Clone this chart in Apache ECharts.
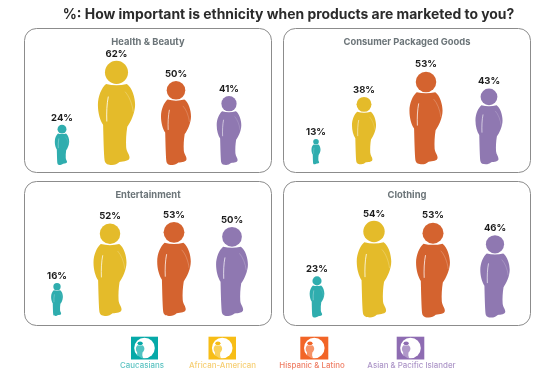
<!DOCTYPE html>
<html>
<head>
<meta charset="utf-8">
<style>html,body{margin:0;padding:0;background:#fff}#c{width:555px;height:380px}</style>
<script src="https://cdn.jsdelivr.net/npm/echarts@6/dist/echarts.min.js"></script>
</head>
<body>
<div id="c"></div>
<script>
// ---- data ----
const chartTitle = '%: How important is ethnicity when products are marketed to you?';
const ethnicities = ['Caucasians', 'African-American', 'Hispanic & Latino', 'Asian & Pacific Islander'];
const panelNames = ['Health & Beauty', 'Consumer Packaged Goods', 'Entertainment', 'Clothing'];
const healthBeauty = [24, 62, 50, 41];
const consumerPackagedGoods = [13, 38, 53, 43];
const entertainment = [16, 52, 53, 50];
const clothing = [23, 54, 53, 46];
const panelValues = [healthBeauty, consumerPackagedGoods, entertainment, clothing];

// ---- styles / layout ----
const figureColors = ['#2fadae', '#e4bb2a', '#d4632f', '#8f78b1'];
const iconColors = ['#06a9a8', '#f7bd16', '#f26527', '#8e6cb2'];
const legendTextColors = ['#5cc3c2', '#f6cf74', '#ef7f66', '#ad96c8'];
const FONT = 'Inter, "Noto Sans", sans-serif';
const panelBoxes = [
  {x: 24.5, y: 28.5, w: 247, h: 144},
  {x: 283.5, y: 28.5, w: 247, h: 144},
  {x: 24.5, y: 181.5, w: 247, h: 144},
  {x: 283.5, y: 181.5, w: 247, h: 144}
];
const panelGrids = [
  {left: 34, width: 224, baseline: 165, pxPerUnit: 1.68, yMin: 0},
  {left: 285, width: 232, baseline: 164.3, pxPerUnit: 1.685, yMin: -2},
  {left: 34, width: 224, baseline: 316, pxPerUnit: 1.65, yMin: -4},
  {left: 290, width: 232, baseline: 317.5, pxPerUnit: 1.79, yMin: 0}
];
const yMax = 70;
const figureNudges = [
  [0, -1.5, 2, -1],
  [2, -8, -4, 1],
  [-5, -8, 0, 2],
  [-2, -3, -2, 2]
];
const legendLayout = [
  {iconX: 131, iconW: 27, textX: 142},
  {iconX: 208.5, iconW: 27.5, textX: 222.5},
  {iconX: 300.3, iconW: 28, textX: 312},
  {iconX: 396.7, iconW: 27.6, textX: 411.5}
];

// person outline in a 100 x 280 box
const HEAD = 'M81,31 A31,31 0 1 1 19,31 A31,31 0 1 1 81,31 Z';
const BODY = 'M22,62 Q50,69 78,62 C92,72 100,98 100,118 C100,140 88,165 79,177 ' +
  'C76,195 75,215 76,232 C77,245 85,250 85,260 C85,270 70,270 58,272 C52,277 46,280 38,280 ' +
  'C28,280 20,278 18,268 C16,250 15,210 14,172 C6,160 0,140 0,118 C0,95 10,72 22,62 Z';
const SHINE_L = 'M28,96 C24,115 23,140 24,163';
const SHINE_R = 'M73,83 C84,95 92,115 95,137';

function personElements(color) {
  return [
    {type: 'path', shape: {pathData: HEAD}, style: {fill: color}},
    {type: 'path', shape: {pathData: BODY}, style: {fill: color}},
    {type: 'path', shape: {pathData: SHINE_L}, style: {fill: null, stroke: 'rgba(255,255,255,0.85)', lineWidth: 2.6}},
    {type: 'path', shape: {pathData: SHINE_R}, style: {fill: null, stroke: 'rgba(255,255,255,0.4)', lineWidth: 1.6}}
  ];
}

const renderPerson = (panel) => (params, api) => {
  const i = api.value(0), v = api.value(1);
  const top = api.coord([i, v]);
  const base = api.coord([i, panelGrids[panel].yMin]);
  const cx = top[0] + figureNudges[panel][i];
  const h = base[1] - top[1];
  const s = h / 280;
  return {
    type: 'group',
    children: [
      {type: 'group', x: cx - 50 * s, y: top[1], scaleX: s, scaleY: s, children: personElements(figureColors[i])},
      {type: 'text', x: cx, y: top[1] - 7, style: {
        text: v + '%', fill: '#1c1c1c', font: '700 9.5px ' + FONT, textAlign: 'center', textVerticalAlign: 'middle'
      }}
    ]
  };
};

const renderLegendItem = (params, api) => {
  const i = api.value(0);
  const l = legendLayout[i];
  const cx = l.iconX + l.iconW / 2, cy = 348;
  return {
    type: 'group',
    children: [
      {type: 'rect', shape: {x: l.iconX, y: 336.7, width: l.iconW, height: 22.8}, style: {fill: iconColors[i]}},
      {type: 'circle', shape: {cx: cx, cy: cy, r: 10.3}, style: {fill: '#fff'}},
      {type: 'group', x: cx - 8.6, y: cy - 6.6, scaleX: 0.085, scaleY: 0.062, children: [
        {type: 'path', shape: {pathData: HEAD}, style: {fill: iconColors[i]}},
        {type: 'path', shape: {pathData: BODY}, style: {fill: iconColors[i], opacity: 0.7}}
      ]},
      {type: 'text', x: l.textX, y: 366, style: {
        text: ethnicities[i], fill: legendTextColors[i], font: '500 7.9px ' + FONT, textAlign: 'center', textVerticalAlign: 'middle'
      }}
    ]
  };
};

const graphic = panelBoxes.map(b => ({
  type: 'rect', shape: {x: b.x, y: b.y, width: b.w, height: b.h, r: 12},
  style: {fill: 'none', stroke: '#8c8c8c', lineWidth: 1}, silent: true
}));

const titles = [{
  text: chartTitle, left: 283.5, top: 3, textAlign: 'center',
  textStyle: {fontFamily: FONT, fontWeight: 700, fontSize: 13.9, color: '#2b2b2b'}
}];
panelNames.forEach((name, p) => titles.push({
  text: name, left: panelBoxes[p].x + panelBoxes[p].w / 2 - 5, top: panelBoxes[p].y + 4, textAlign: 'center',
  textStyle: {fontFamily: FONT, fontWeight: 700, fontSize: 9.4, color: '#6b7478'}
}));

const personSeries = panelValues.map((vals, p) => ({
  type: 'custom',
  name: panelNames[p],
  xAxisIndex: p, yAxisIndex: p,
  clip: false,
  encode: {x: 0, y: 1},
  data: vals.map((v, i) => [i, v]),
  renderItem: renderPerson(p)
}));

const option = {
  animation: false,
  backgroundColor: '#fff',
  title: titles,
  graphic: graphic,
  grid: panelGrids.map(g => ({
    left: g.left, width: g.width,
    top: g.baseline - g.pxPerUnit * (yMax - g.yMin),
    height: g.pxPerUnit * (yMax - g.yMin)
  })),
  xAxis: panelGrids.map((g, p) => ({type: 'category', gridIndex: p, data: ethnicities, show: false})),
  yAxis: panelGrids.map((g, p) => ({type: 'value', gridIndex: p, min: g.yMin, max: yMax, show: false})),
  series: personSeries.concat([{
    type: 'custom',
    name: 'Legend',
    coordinateSystem: 'none',
    data: ethnicities.map((n, i) => [i]),
    renderItem: renderLegendItem
  }])
};
echarts.init(document.getElementById('c'), null, {renderer: 'canvas'}).setOption(option);
</script>
</body>
</html>
